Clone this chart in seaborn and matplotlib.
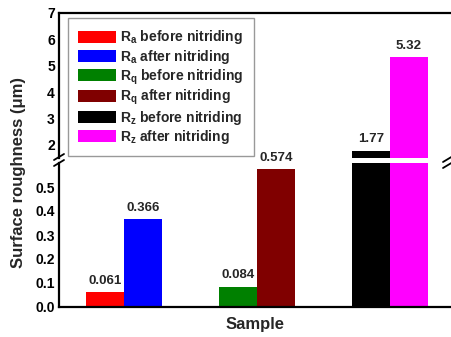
import matplotlib
matplotlib.use("Agg")
import matplotlib.pyplot as plt
import seaborn as sns
import pandas as pd
from matplotlib.patches import Patch
from matplotlib.lines import Line2D

# ---------------- data ----------------
group_index = [0, 0, 1, 1, 2, 2]          # Ra, Ra, Rq, Rq, Rz, Rz
stage = ["before", "after", "before", "after", "before", "after"]
series = ["R$_a$ before nitriding", "R$_a$ after nitriding",
          "R$_q$ before nitriding", "R$_q$ after nitriding",
          "R$_z$ before nitriding", "R$_z$ after nitriding"]
values = [0.061, 0.366, 0.084, 0.574, 1.77, 5.32]
value_labels = ["0.061", "0.366", "0.084", "0.574", "1.77", "5.32"]
colors = ["#FF0000", "#0000FF", "#008000", "#800000", "#000000", "#FF00FF"]
lower_ticks = [0.0, 0.1, 0.2, 0.3, 0.4, 0.5]
upper_ticks = [2, 3, 4, 5, 6, 7]

# ---------------- style ----------------
sns.set_style("white")
plt.rcParams["font.family"] = ["Liberation Sans", "DejaVu Sans"]
plt.rcParams["font.weight"] = "bold"
plt.rcParams["mathtext.fontset"] = "custom"
plt.rcParams["mathtext.rm"] = "Liberation Sans:bold"
plt.rcParams["mathtext.it"] = "Liberation Sans:bold"
plt.rcParams["mathtext.bf"] = "Liberation Sans:bold"

bar_w = 0.286
df = pd.DataFrame({
    "pos": [g + (-bar_w / 2 if s == "before" else bar_w / 2) for g, s in zip(group_index, stage)],
    "value": values,
    "series": series,
})

W, H = 452, 337
fig = plt.figure(figsize=(W / 100, H / 100), dpi=100)
left = 59 / W
right = 451 / W
ax_top = fig.add_axes([left, 1 - 158 / H, right - left, (158 - 13) / H])
ax_bot = fig.add_axes([left, 1 - 307 / H, right - left, (307 - 163) / H])

for ax in (ax_top, ax_bot):
    sns.barplot(data=df, x="pos", y="value", hue="series", hue_order=series,
                palette=colors, saturation=1, native_scale=True, dodge=False, width=1.0,
                errorbar=None, linewidth=0, legend=False, ax=ax)
    ax.set_xlim(-0.49, 2.46)
    ax.set_xticks([])
    ax.set_xlabel("")
    ax.set_ylabel("")
    ax.spines["right"].set_visible(False)
    for sp in ax.spines.values():
        sp.set_linewidth(1.6)
        sp.set_color("black")
    ax.tick_params(axis="y", direction="in", length=4, width=1.5,
                   labelsize=10, pad=3, colors="black")

ax_top.set_ylim(1.5, 7)
ax_top.set_yticks(upper_ticks)
ax_top.set_yticklabels([str(t) for t in upper_ticks], fontweight="bold")
ax_top.spines["bottom"].set_visible(False)

ax_bot.set_ylim(0, 0.6)
ax_bot.set_yticks(lower_ticks)
ax_bot.set_yticklabels([f"{t:.1f}" for t in lower_ticks], fontweight="bold")
ax_bot.spines["top"].set_visible(False)
ax_bot.set_xlabel("Sample", fontsize=12, fontweight="bold", labelpad=7)

# value labels
for ax, lo, hi in ((ax_bot, 0, 0.6), (ax_top, 1.5, 7)):
    for c, v, lab in zip(ax.containers, values, value_labels):
        text = lab if lo < v < hi else ""
        ax.bar_label(c, labels=[text], padding=4, fontsize=9.5, fontweight="bold")

# legend
handles = [Patch(facecolor=c, edgecolor="none", label=s) for c, s in zip(colors, series)]
leg = ax_top.legend(handles=handles, loc="upper left", bbox_to_anchor=(0.023, 0.965),
                    fontsize=10, frameon=True, fancybox=False, handlelength=2.7,
                    handleheight=0.95, labelspacing=0.1, handletextpad=0.3,
                    borderpad=0.75, borderaxespad=0)
leg.get_frame().set_edgecolor("#808080")
leg.get_frame().set_linewidth(1.0)
for t in leg.get_texts():
    t.set_fontweight("bold")

# y label
fig.text(19 / W, 1 - 172 / H, "Surface roughness (μm)", rotation=90,
         ha="center", va="center", fontsize=12, fontweight="bold")

# break marks
def brk(xp, yp):
    for dy in (-3, 3):
        fig.add_artist(Line2D([(xp - 5) / W, (xp + 5) / W],
                              [1 - (yp + dy + 3) / H, 1 - (yp + dy - 3) / H],
                              transform=fig.transFigure, color="black", lw=1.3))

brk(59, 160)
brk(448, 162)

fig.savefig("out.png", dpi=100)
